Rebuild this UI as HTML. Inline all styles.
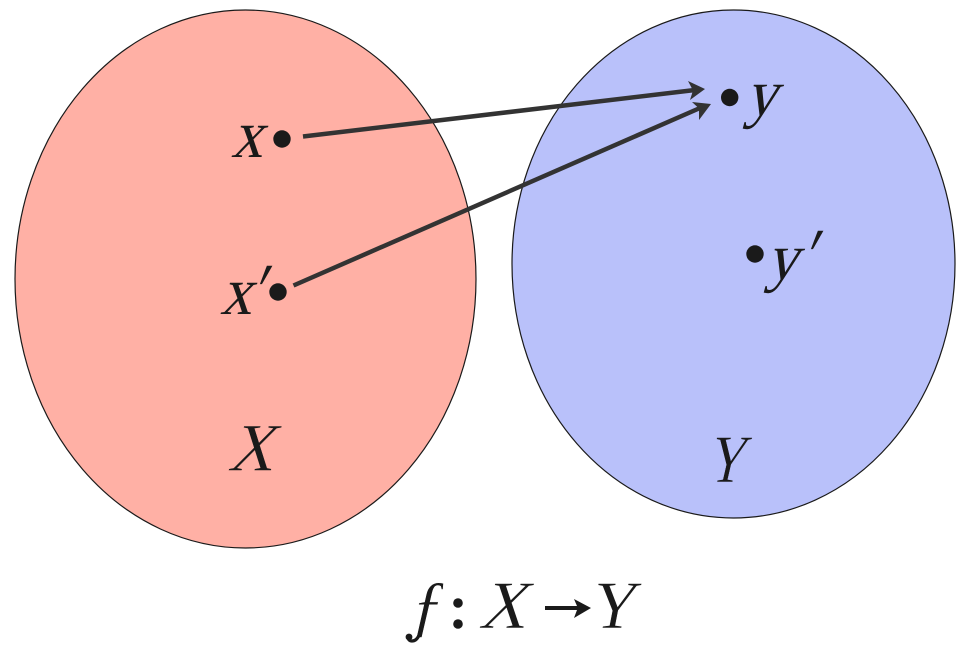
<!DOCTYPE html>
<html>
<head>
<meta charset="utf-8">
<style>
html,body{margin:0;padding:0;background:#fff;width:967px;height:646px;overflow:hidden}
svg{display:block}
text{fill:#1a1a1a;font-family:"Liberation Serif",serif;font-style:normal;font-size:68px}
.p{stroke:#ffb0a5;stroke-width:.5px}
.b{stroke:#b9c1fa;stroke-width:.5px}
.w{stroke:#fff;stroke-width:.5px}
</style>
</head>
<body>
<svg width="967" height="646" viewBox="0 0 967 646" xmlns="http://www.w3.org/2000/svg">
<ellipse cx="245.500" cy="279" rx="230.500" ry="269" fill="#ffb0a5" stroke="#1a1a1a" stroke-width="1.200"/>
<ellipse cx="733.500" cy="264" rx="221.500" ry="254" fill="#b9c1fa" stroke="#1a1a1a" stroke-width="1.200"/>
<line x1="303" y1="136.500" x2="695" y2="90" stroke="#333" stroke-width="4.500"/>
<path d="M705 89 L688 81 L693 90.500 L690 100 Z" fill="#333"/>
<line x1="293.500" y1="285.500" x2="700" y2="108" stroke="#333" stroke-width="4.500"/>
<path d="M711 104 L692 102 L699 108.500 L699 120 Z" fill="#333"/>
<circle cx="282" cy="139" r="8.700" fill="#1a1a1a"/>
<circle cx="278" cy="292" r="8.700" fill="#1a1a1a"/>
<circle cx="729.700" cy="97.500" r="8.700" fill="#1a1a1a"/>
<circle cx="755" cy="254" r="8.700" fill="#1a1a1a"/>
<text transform="translate(231 157) skewX(-15) scale(.92 1)">x</text>
<text transform="translate(220 314) skewX(-15) scale(.92 1)">x</text>
<text transform="translate(247 317) skewX(-17) scale(.85 1.150)">′</text>
<text transform="translate(745 115) skewX(-15) scale(.92 .97)">y</text>
<text transform="translate(766 279) skewX(-15) scale(.92 .97)">y</text>
<text transform="translate(798 282) skewX(-17) scale(.85 1.150)">′</text>
<text class="p" transform="translate(227 470.500) skewX(-17) scale(.92 1)">X</text>
<text class="b" transform="translate(706 482) skewX(-13) scale(.76 1)">Y</text>
<text class="w" transform="translate(410 628) skewX(-5)">ƒ</text>
<path d="M422 624 C420 636 417 641 412 641 C409 641 408 639 408 637" fill="none" stroke="#1a1a1a" stroke-width="3.200"/>
<circle cx="409" cy="637" r="3.400" fill="#1a1a1a"/>
<circle cx="458" cy="603" r="4.800" fill="#1a1a1a"/>
<circle cx="458" cy="624" r="4.800" fill="#1a1a1a"/>
<text class="w" transform="translate(478 628) skewX(-17) scale(.95 1)">X</text>
<path d="M545 606 H577 L574 599 L591 608 L574 618 L577 610 H545 Z" fill="#1a1a1a"/>
<text class="w" transform="translate(589 628) skewX(-11) scale(.93 1)">Y</text>
</svg>
</body>
</html>
